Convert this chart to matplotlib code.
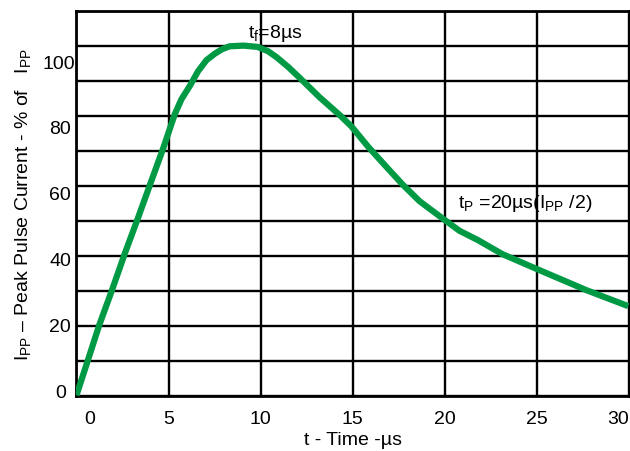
import matplotlib
matplotlib.use("Agg")
import matplotlib.pyplot as plt
import matplotlib.transforms as mtransforms
from matplotlib.ticker import FixedLocator
import numpy as np

plt.rcParams['font.family'] = ['Liberation Sans', 'DejaVu Sans']
plt.rcParams['mathtext.fontset'] = 'custom'
plt.rcParams['mathtext.rm'] = 'Liberation Sans'
plt.rcParams['mathtext.it'] = 'Liberation Sans:italic'

# ---- data ----
time_us = [0.0, 0.61, 1.24, 1.93, 2.65, 3.32, 3.99, 4.71, 5.34, 5.70, 6.16,
           6.60, 7.06, 7.50, 7.90, 8.32, 9.08, 9.84, 10.40, 10.86, 11.50,
           12.12, 13.20, 14.29, 14.92, 15.83, 16.80, 17.72, 18.63, 20.04,
           20.80, 21.79, 23.13, 24.99, 27.67, 29.96]
current_pct = [-1.6, 8.9, 19.8, 30.4, 41.9, 52.0, 62.4, 73.5, 83.9, 88.4, 92.5,
               96.9, 100.3, 102.2, 103.6, 104.5, 104.7, 104.3, 103.0, 101.2, 98.2,
               94.9, 89.0, 83.6, 80.2, 74.0, 68.0, 62.4, 57.4, 51.5,
               48.4, 45.6, 41.3, 36.8, 30.4, 25.5]

x_ticks = [0, 5, 10, 15, 20, 25, 30]
y_ticks = [0, 20, 40, 60, 80, 100]
x_lim = (0, 30)
y_lim = (-1.91, 115.3)
n_hgrid = 11

tf_label = r"t$_\mathregular{f}$=8µs"
tp_label = r"t$_\mathregular{P}$ =20µs(I$_\mathregular{PP}$ /2)"
x_title = "t - Time -µs"
y_title = r"I$_\mathregular{PP}$ – Peak Pulse Current - % of   I$_\mathregular{PP}$"

fs = 14

fig = plt.figure(figsize=(6.30, 4.52), dpi=100)
ax = fig.add_axes([0.1214, 0.121, 0.9984 - 0.1214, 0.974 - 0.121])

ax.set_xlim(*x_lim)
ax.set_ylim(*y_lim)

ax.set_xticks(x_ticks)
ax.set_yticks(y_ticks)
ax.yaxis.set_minor_locator(FixedLocator(np.linspace(y_lim[0], y_lim[1], n_hgrid + 1)))
ax.tick_params(which='both', length=0)
ax.tick_params(axis='x', pad=10, labelsize=fs)
ax.tick_params(axis='y', pad=4, labelsize=fs)

ax.grid(True, which='major', axis='x', color='black', linewidth=1.7)
ax.grid(True, which='minor', axis='y', color='black', linewidth=1.7)
ax.set_axisbelow(True)
for s in ax.spines.values():
    s.set_linewidth(2.0)
    s.set_color('black')

ax.plot(time_us, current_pct, color='#009a44', linewidth=4.5,
        solid_joinstyle='round', solid_capstyle='butt', zorder=3)

# tick label nudges (pixels) to match reference placement
def nudge(label, dx_px, dy_px=0):
    label.set_transform(label.get_transform() +
                        mtransforms.ScaledTranslation(dx_px / 100, dy_px / 100, fig.dpi_scale_trans))

xl = ax.get_xticklabels()
nudge(xl[0], 13.5)
nudge(xl[-1], -11)
yl = ax.get_yticklabels()
nudge(yl[0], -5)
nudge(yl[-1], 4)

ax.text(9.3, 108.8, tf_label, fontsize=fs, va='center', ha='left')
ax.text(20.69, 57.1, tp_label, fontsize=fs, va='center', ha='left')

ax.set_xlabel(x_title, fontsize=fs, labelpad=3)
ax.set_ylabel(y_title, fontsize=fs, labelpad=7)

fig.savefig("out.png", dpi=100)
